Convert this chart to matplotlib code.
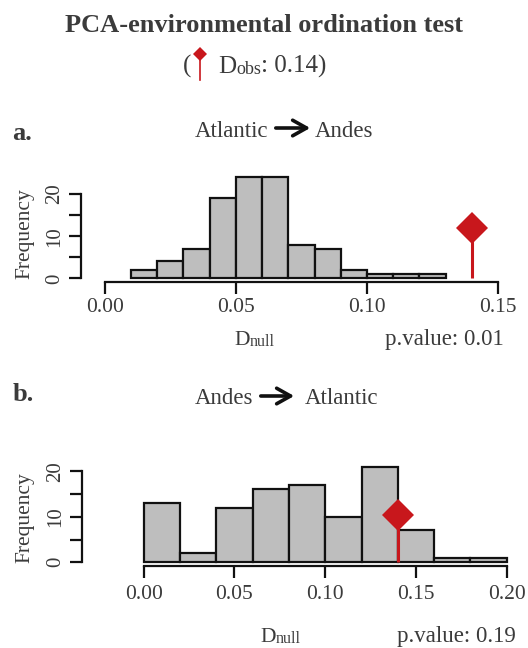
import numpy as np
import matplotlib
matplotlib.use("Agg")
import matplotlib.pyplot as plt
from matplotlib.lines import Line2D
from matplotlib.patches import FancyArrowPatch

plt.rcParams['font.family'] = ['Liberation Serif', 'DejaVu Serif']

# histogram data
edges_a = [0.01, 0.02, 0.03, 0.04, 0.05, 0.06, 0.07, 0.08, 0.09, 0.10, 0.11, 0.12, 0.13]
counts_a = [2, 4, 7, 19, 24, 24, 8, 7, 2, 1, 1, 1]
edges_b = [0.00, 0.02, 0.04, 0.06, 0.08, 0.10, 0.12, 0.14, 0.16, 0.18, 0.20]
counts_b = [13, 2, 12, 16, 17, 10, 21, 7, 1, 1]

d_obs = 0.14
pval_a = 0.01
pval_b = 0.19

xticks_a = [0.00, 0.05, 0.10, 0.15]
xticks_b = [0.00, 0.05, 0.10, 0.15, 0.20]
yticks = [0, 5, 10, 15, 20]
ylabels = ['0', '', '10', '', '20']

TXT = '#3b3b3b'
RED = '#c8171c'
GREY = '#bebebe'

W, H = 528, 648
fig = plt.figure(figsize=(W / 100, H / 100), dpi=100)


def fx(x):
    return x / W


def fy(y):
    return 1 - y / H


def add_panel(left, right, top, bottom, xlim, ylim):
    ax = fig.add_axes([fx(left), fy(bottom), fx(right - left), (bottom - top) / H])
    ax.set_xlim(*xlim)
    ax.set_ylim(*ylim)
    ax.patch.set_alpha(0)
    return ax


def hist_panel(ax, edges, counts, xticks, xpad):
    edges = np.array(edges)
    ax.bar(edges[:-1], counts, width=np.diff(edges), align='edge',
           color=GREY, edgecolor='#111111', linewidth=1.6, zorder=2)
    # observed value marker
    ytop = max(counts) / 2
    ax.plot([d_obs, d_obs], [0, ytop], color=RED, lw=2.2, zorder=3,
            solid_capstyle='butt')
    ax.plot([d_obs], [ytop], marker='D', ms=16.5, mew=0, color=RED, zorder=4)

    for s in ['top', 'right']:
        ax.spines[s].set_visible(False)
    for s in ['left', 'bottom']:
        ax.spines[s].set_linewidth(1.6)
        ax.spines[s].set_color('#111111')
    ax.spines['bottom'].set_bounds(xticks[0], xticks[-1])
    ax.spines['left'].set_bounds(yticks[0], yticks[-1])

    ax.set_xticks(xticks, ['%.2f' % t for t in xticks])
    ax.set_yticks(yticks, ylabels)
    ax.tick_params(length=8.3, width=1.6, color='#111111', labelcolor=TXT)
    ax.tick_params(axis='x', labelsize=15.5, pad=xpad)
    ax.tick_params(axis='y', labelsize=15, pad=3.5)
    for lab in ax.get_yticklabels():
        lab.set_rotation(90)
        lab.set_va('center')


# panel a
ax_a = add_panel(81, 505, 172.9, 281.7, (-0.00903, 0.1526), (-0.8, 25))
hist_panel(ax_a, edges_a, counts_a, xticks_a, 3.5)

# panel b
ax_b = add_panel(81.5, 510, 462.2, 565.9, (-0.0343, 0.2018), (-0.8, 22))
hist_panel(ax_b, edges_b, counts_b, xticks_b, 5.5)

# titles
fig.text(0.5, fy(32), 'PCA-environmental ordination test', ha='center',
         va='baseline', fontsize=19, fontweight='bold', color=TXT)

# legend line
fig.text(fx(183), fy(73), '(', fontsize=18, color=TXT, va='baseline')
fig.add_artist(Line2D([fx(199.5), fx(199.5)], [fy(56), fy(80)],
                      transform=fig.transFigure, color=RED, lw=1.2))
fig.add_artist(Line2D([fx(199.5)], [fy(53.5)], transform=fig.transFigure,
                      marker='D', ms=7.6, mew=0, color=RED))
td = fig.text(fx(218), fy(73), 'D', fontsize=18, color=TXT, va='baseline')
to = ax_a.annotate('obs', xy=(1, 0), xycoords=td, fontsize=13, color=TXT,
                   va='bottom', ha='left', annotation_clip=False)
ax_a.annotate(': %.2f)' % d_obs, xy=(1, 0), xycoords=(to, td), fontsize=18,
              color=TXT, va='bottom', ha='left', annotation_clip=False)


def route(y, left_word, right_word, x_left, x_arrow0, x_arrow1, x_right, y_arrow):
    fig.text(fx(x_left), fy(y), left_word, fontsize=16.5, color=TXT, va='baseline')
    fig.text(fx(x_right), fy(y), right_word, fontsize=16.5, color=TXT, va='baseline')
    arr = FancyArrowPatch((fx(x_arrow0), fy(y_arrow)), (fx(x_arrow1), fy(y_arrow)),
                          transform=fig.transFigure,
                          arrowstyle='->,head_length=0.5,head_width=0.28',
                          mutation_scale=20, lw=2.6, color='#111111')
    fig.add_artist(arr)


route(136.7, 'Atlantic', 'Andes', 195, 273, 313, 315, 128)
route(404, 'Andes', 'Atlantic', 195, 258, 297, 305, 396)

fig.text(fx(12), fy(140), 'a.', fontsize=19, fontweight='bold', color=TXT, va='baseline')
fig.text(fx(13), fy(401), 'b.', fontsize=19, fontweight='bold', color=TXT, va='baseline')

# y labels
fig.text(fx(25), fy(234), 'Frequency', rotation=90, ha='center', va='center',
         fontsize=15.5, color=TXT)
fig.text(fx(25), fy(518), 'Frequency', rotation=90, ha='center', va='center',
         fontsize=15.5, color=TXT)

# x labels and p values
for ax, x0, yb, xp, pv in [(ax_a, 234, 345, 385, pval_a), (ax_b, 260, 641.7, 397, pval_b)]:
    t = fig.text(fx(x0), fy(yb), 'D', fontsize=15.5, color=TXT, va='baseline')
    ax.annotate('null', xy=(1, 0), xycoords=t, fontsize=11.5, color=TXT,
                va='bottom', ha='left', annotation_clip=False)
    fig.text(fx(xp), fy(yb), 'p.value: %.2f' % pv, fontsize=16.5, color=TXT,
             va='baseline')

fig.savefig('out.png', dpi=100)
